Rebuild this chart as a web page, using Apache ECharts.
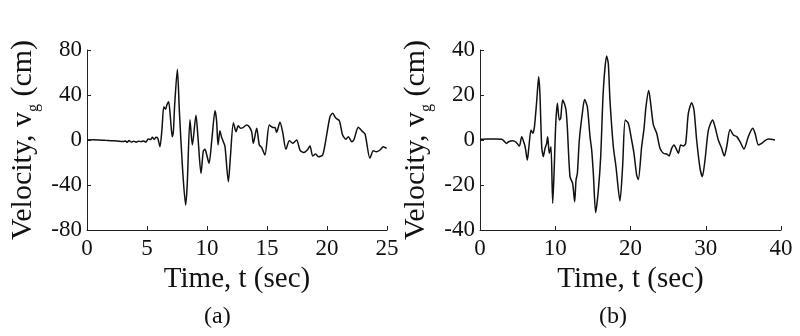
<!DOCTYPE html>
<html>
<head>
<meta charset="utf-8">
<script src="https://cdn.jsdelivr.net/npm/echarts@6/dist/echarts.min.js"></script>
<style>html,body{margin:0;padding:0;background:#fff}#c{width:800px;height:336px}</style>
</head>
<body>
<div id="c"></div>
<script>
// (a) record: [time (s), velocity (cm)]
const seriesA = [[0,0],[0.5,0.2],[1,0],[1.5,-0.3],[2,-0.6],[2.5,-0.9],[3,-1.3],[3.2,-0.8],[3.35,-2],[3.5,-0.5],[3.7,-1.8],[3.9,-1],[4.1,-2],[4.3,-1],[4.5,-1.5],[4.7,-0.8],[4.9,-1.8],[5.1,0.9],[5.3,0.5],[5.45,2.4],[5.6,0.5],[5.75,2.4],[5.9,1.5],[6.08,-5.9],[6.25,10],[6.4,29.6],[6.55,27.3],[6.65,31],[6.8,34],[6.95,20],[7.1,3],[7.2,8],[7.3,30],[7.53,62.8],[7.7,25],[7.97,-26.7],[8.22,-57.8],[8.35,-40],[8.58,18],[8.78,-4.4],[9.08,22],[9.25,2],[9.5,-29.6],[9.69,-10],[9.83,-8.3],[9.95,-12],[10.17,-20.7],[10.4,0],[10.67,26],[10.8,17],[10.92,-4.4],[11.08,8.3],[11.2,3],[11.36,-1.5],[11.5,-5.9],[11.78,-37],[11.95,-15],[12.2,15.4],[12.42,7.4],[12.6,12.6],[12.8,10.4],[13.0,11],[13.3,13.3],[13.5,12],[13.72,7.4],[13.86,-2.9],[14.14,10.4],[14.36,-4.4],[14.55,-6.5],[14.83,-13.3],[15.19,13.3],[15.45,11.3],[15.67,11],[15.8,6.8],[16.08,15.7],[16.3,7.4],[16.58,-8.3],[16.86,-0.6],[17.15,-2.9],[17.47,0],[17.75,-8.9],[18.05,-11.2],[18.36,-8.9],[18.58,-5.3],[18.81,-14.2],[19.05,-12.4],[19.28,-14.8],[19.64,-13.3],[19.97,4.4],[20.25,20.7],[20.47,23.7],[20.75,19.3],[21.03,17.2],[21.3,4.4],[21.58,0.6],[21.78,3],[22.06,-1.5],[22.25,0.5],[22.61,11.3],[22.89,8.3],[23.17,5.3],[23.58,-16.3],[23.86,-9.5],[24.1,-10.5],[24.42,-8.9],[24.69,-5.9],[24.97,-7.4]];
// (b) record
const seriesB = [[0,0.3],[1,0.4],[2,0.4],[2.9,0.3],[3.2,-0.5],[3.54,-1.5],[3.8,-0.8],[4.34,-0.3],[4.8,-1],[5.23,-2.7],[5.54,1.5],[5.75,-0.2],[6.0,-3],[6.29,-8.9],[6.5,-3],[6.78,4.4],[7.0,3],[7.22,5.5],[7.53,17],[7.8,28.1],[7.97,20],[8.2,-3],[8.42,-7.4],[8.64,-3.7],[8.86,-1.5],[8.99,1.5],[9.21,-5.9],[9.43,-3],[9.66,-28.1],[9.84,-14.8],[10.06,6.7],[10.28,16.3],[10.54,8.9],[10.72,9.6],[10.98,17.8],[11.2,16.3],[11.43,13.3],[11.6,5.9],[11.96,-16.3],[12.31,-19.3],[12.58,-27.4],[12.76,-17.8],[12.94,-14.8],[13.2,0],[13.6,11.9],[13.9,18],[14.26,14.8],[14.62,1.5],[14.84,-4.4],[15.06,-14.8],[15.37,-32.3],[15.73,-22.2],[16.04,-7.4],[16.39,22.2],[16.83,37.3],[17.05,34],[17.27,17.8],[17.72,-3],[18.07,-11.9],[18.6,-27.1],[18.95,-11.9],[19.3,8.9],[19.71,7.4],[20.15,0],[20.46,-5.9],[20.82,-15.6],[21.04,-17.5],[21.48,-3],[21.8,5.2],[22.06,14.8],[22.42,22],[22.68,16.3],[23.04,6.7],[23.48,3],[23.92,-3.7],[24.37,-5.9],[24.81,-6.2],[25.12,-7.1],[25.47,-3.7],[25.79,-2.2],[26.05,-3.7],[26.36,-5.9],[26.67,-2.2],[27.02,-2.7],[27.33,-1.5],[27.69,11.9],[28.13,16.6],[28.44,13.3],[28.79,0],[29.24,-12.6],[29.55,-16.3],[29.9,-8.9],[30.35,4.4],[30.92,8.9],[31.23,5.9],[31.67,0],[32.11,-3.7],[32.47,-7.1],[32.78,-3],[33.23,4.7],[33.67,2.2],[34.12,1.5],[34.55,-0.7],[35.08,-4],[35.66,1.5],[36.24,5.2],[36.55,3],[37.0,-2.2],[37.43,-1.5],[37.87,-0.3],[38.31,0.4],[39.2,0]];

const axisA = {xMax: 25, xStep: 5, yMin: -80, yMax: 80, yStep: 40};
const axisB = {xMax: 40, xStep: 10, yMin: -40, yMax: 40, yStep: 20};
const xTitle = 'Time, t (sec)';
const yTitle = '{m|Velocity, v}{s|g}{m| (cm)}';
const panelLabels = ['(a)', '(b)'];

const FONT = 'Liberation Serif';
const INK = '#111';

function xAxisOf(idx, ax) {
  return {
    type: 'value', gridIndex: idx, min: 0, max: ax.xMax, interval: ax.xStep,
    name: xTitle, nameLocation: 'middle', nameGap: 31,
    nameTextStyle: {fontFamily: FONT, fontSize: 29, color: INK},
    axisLine: {show: true, onZero: false, lineStyle: {color: '#222', width: 1}},
    axisTick: {show: true, inside: true, length: 4, lineStyle: {color: '#222'}},
    axisLabel: {fontFamily: FONT, fontSize: 23, color: INK, margin: 7, showMinLabel: true, showMaxLabel: true},
    splitLine: {show: false}
  };
}
function yAxisOf(idx, ax) {
  return {
    type: 'value', gridIndex: idx, min: ax.yMin, max: ax.yMax, interval: ax.yStep,
    name: yTitle, nameLocation: 'middle', nameGap: 45,
    nameTextStyle: {
      fontFamily: FONT, color: INK,
      rich: {
        m: {fontFamily: FONT, fontSize: 30, color: INK, verticalAlign: 'top', lineHeight: 34},
        s: {fontFamily: FONT, fontSize: 16, color: INK, verticalAlign: 'top', padding: [18, 0, 0, 0]}
      }
    },
    axisLine: {show: true, onZero: false, lineStyle: {color: '#222', width: 1}},
    axisTick: {show: true, inside: true, length: 4, lineStyle: {color: '#222'}},
    axisLabel: {fontFamily: FONT, fontSize: 23, color: INK, margin: 5, showMinLabel: true, showMaxLabel: true},
    splitLine: {show: false}
  };
}

const chart = echarts.init(document.getElementById('c'), null, {renderer: 'canvas'});
chart.setOption({
  animation: false,
  backgroundColor: '#fff',
  textStyle: {fontFamily: FONT},
  grid: [
    {left: 87, top: 50, width: 300, height: 180},
    {left: 480, top: 50, width: 301, height: 180}
  ],
  xAxis: [xAxisOf(0, axisA), xAxisOf(1, axisB)],
  yAxis: [yAxisOf(0, axisA), yAxisOf(1, axisB)],
  graphic: [
    {type: 'text', left: 204, top: 305, style: {text: panelLabels[0], font: '24px "Liberation Serif"', fill: INK}},
    {type: 'text', left: 599, top: 305, style: {text: panelLabels[1], font: '24px "Liberation Serif"', fill: INK}}
  ],
  series: [
    {type: 'line', xAxisIndex: 0, yAxisIndex: 0, data: seriesA, showSymbol: false, smooth: 0.25,
     lineStyle: {color: INK, width: 1.5}},
    {type: 'line', xAxisIndex: 1, yAxisIndex: 1, data: seriesB, showSymbol: false, smooth: 0.25,
     lineStyle: {color: INK, width: 1.5}}
  ]
});
</script>
</body>
</html>
